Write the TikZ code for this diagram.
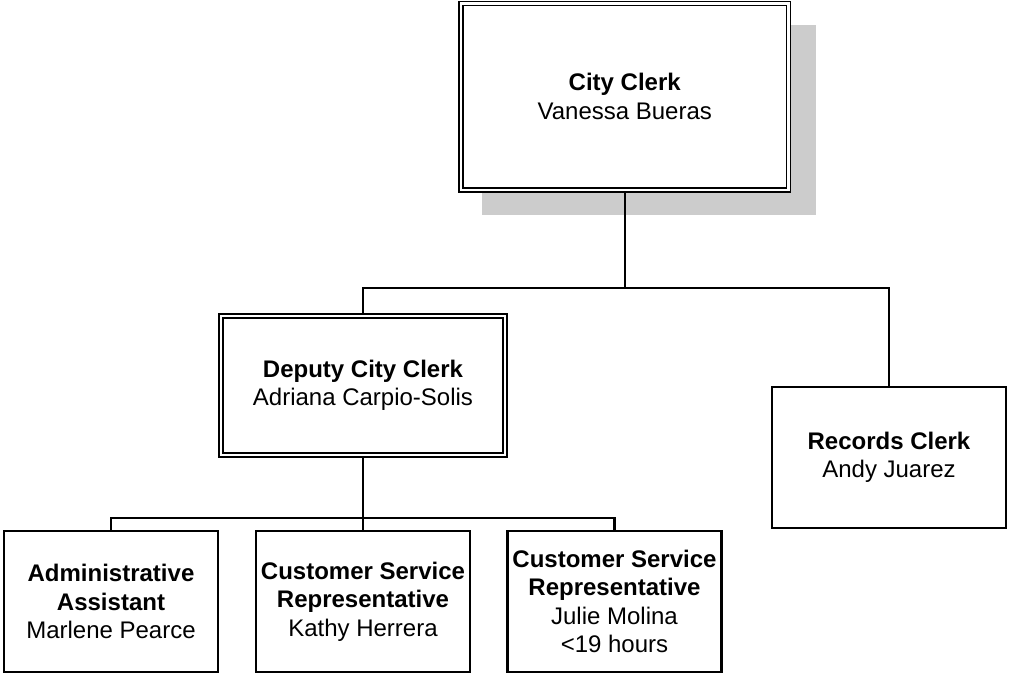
\documentclass[tikz,border=0pt]{standalone}
\usepackage{fontspec}
\setmainfont{Liberation Sans}
\definecolor{shadowgray}{HTML}{CCCCCC}
\begin{document}
\begin{tikzpicture}[x=1pt,y=-1pt,
  txt/.style={align=center,font=\fontsize{24}{28.5}\selectfont,inner sep=0pt},
  dbox/.style={txt,draw=black,fill=white,line width=1.7pt,double=white,double distance=2.1pt,outer sep=2.75pt},
  sbox/.style={txt,draw=black,fill=white,line width=2.2pt,outer sep=1.1pt},
  conn/.style={draw=black,line width=2.2pt,line join=miter}]
\useasboundingbox (0,0) rectangle (1009,675);
% shadow of the top box
\node[fill=shadowgray,draw=none,minimum width=334pt,minimum height=190pt,inner sep=0pt] (shadow) at (649,120) {};
% boxes
\node[dbox,minimum width=327.5pt,minimum height=186.3pt] (cc) at (624.75,96.6) {\textbf{City Clerk}\\Vanessa Bueras};
\node[dbox,minimum width=284.4pt,minimum height=139.4pt] (dep) at (363,385.5) {\textbf{Deputy City Clerk}\\Adriana Carpio-Solis};
\node[sbox,minimum width=234pt,minimum height=141pt] (rec) at (889,457.5) {\textbf{Records Clerk}\\Andy Juarez};
\node[sbox,minimum width=214pt,minimum height=141pt] (aa) at (111,601.5) {\textbf{Administrative}\\\textbf{Assistant}\\Marlene Pearce};
\node[sbox,minimum width=214pt,minimum height=141pt] (csra) at (363,601.5) {\textbf{Customer Service}\\\textbf{Representative}\\Kathy Herrera};
\node[sbox,minimum width=214pt,minimum height=141pt] (csrb) at (614.5,601.5) {\textbf{Customer Service}\\\textbf{Representative}\\Julie Molina\\<19 hours};
% connectors
\coordinate (j1) at (624.75,288);
\coordinate (j2) at (363,518);
\draw[conn] (cc.south) -- (j1);
\draw[conn] (dep.north) |- (j1) -| (rec.north);
\draw[conn] (dep.south) -- (j2);
\draw[conn] (aa.north) |- (j2) -| (csrb.north);
\draw[conn] (j2) -- (csra.north);
\end{tikzpicture}
\end{document}
